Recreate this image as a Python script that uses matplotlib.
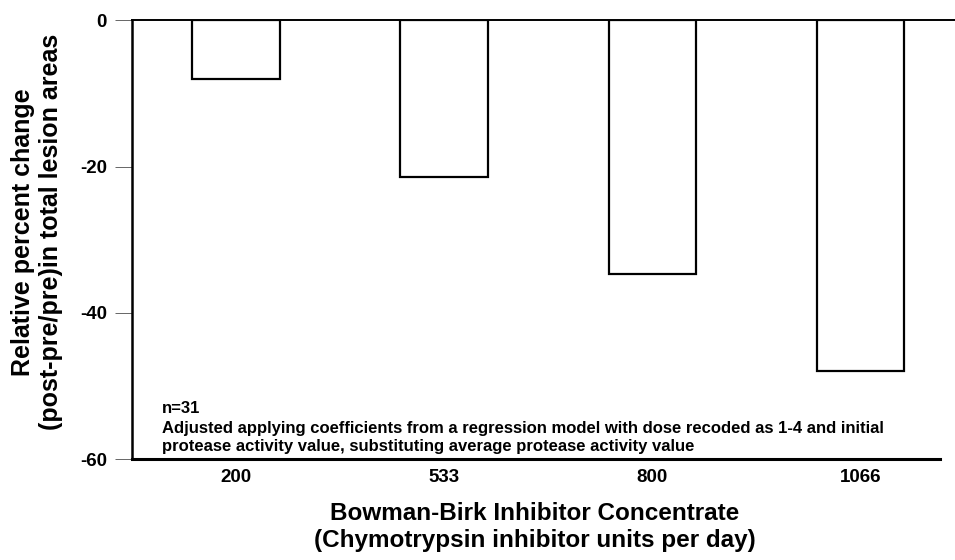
import matplotlib
matplotlib.use("Agg")
import matplotlib.pyplot as plt

plt.rcParams['font.family'] = ['Liberation Sans', 'DejaVu Sans']
plt.rcParams['font.weight'] = 'bold'
plt.rcParams['axes.unicode_minus'] = False

doses = ["200", "533", "800", "1066"]
change = [-8.0, -21.4, -34.7, -48.0]

fig = plt.figure(figsize=(9.55, 5.6), dpi=100)
ax = fig.add_axes([0.138, 0.180, 0.846, 0.784])

x = range(len(doses))
ax.bar(x, change, width=0.42, color='white', edgecolor='black', linewidth=1.6, zorder=2)
ax.axhline(0, color='black', linewidth=1.4, xmin=0, xmax=1.02, clip_on=False, zorder=3)

ax.set_xlim(-0.5, 3.38)
ax.set_ylim(-60, 0)
ax.set_yticks([0, -20, -40, -60])
ax.set_xticks(list(x))
ax.set_xticklabels(doses)

ax.spines['top'].set_visible(False)
ax.spines['right'].set_visible(False)
ax.spines['left'].set_linewidth(1.8)
ax.spines['bottom'].set_linewidth(2.2)
ax.tick_params(axis='y', length=12, width=0.7, color='#666666', labelsize=13.5, pad=6)
ax.tick_params(axis='x', length=0, labelsize=13.5, pad=7)

# axis titles placed on the figure
fig.text(37 / 955, 1 - 232 / 560,
         "Relative percent change\n(post-pre/pre)in total lesion areas",
         rotation=90, ha='center', va='center', multialignment='center',
         fontsize=18, fontweight='bold', linespacing=1.2)
fig.text(535 / 955, 1 - 527 / 560,
         "Bowman-Birk Inhibitor Concentrate\n(Chymotrypsin inhibitor units per day)",
         ha='center', va='center', multialignment='center',
         fontsize=17.5, fontweight='bold', linespacing=1.25)

ax.text(0.037, 0.105, "n=31", transform=ax.transAxes, fontsize=12, fontweight='bold')
ax.text(0.037, 0.018,
        "Adjusted applying coefficients from a regression model with dose recoded as 1-4 and initial\n"
        "protease activity value, substituting average protease activity value",
        transform=ax.transAxes, fontsize=12, fontweight='bold', linespacing=1.3)

fig.savefig("out.png", dpi=100)
